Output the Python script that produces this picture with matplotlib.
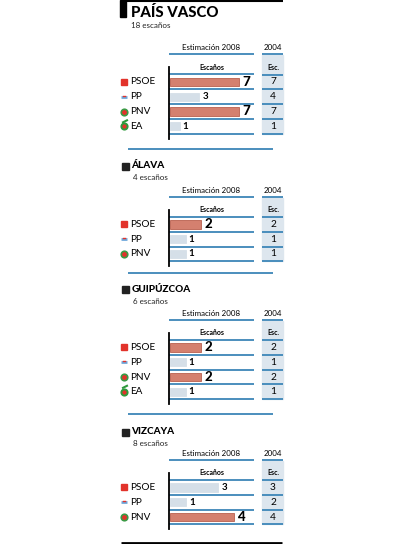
import matplotlib.pyplot as plt
from matplotlib.patches import Rectangle
from matplotlib.transforms import offset_copy
import numpy as np

plt.rcParams['font.family'] = ['Lato', 'DejaVu Sans']

# data
regions = ["PAÍS VASCO", "ÁLAVA", "GUIPÚZCOA", "VIZCAYA"]
region_seats = ["18 escaños", "4 escaños", "6 escaños", "8 escaños"]

pv_parties = ["PSOE", "PP", "PNV", "EA"]
pv_2008 = [7, 3, 7, 1]
pv_2004 = [7, 4, 7, 1]

alava_parties = ["PSOE", "PP", "PNV"]
alava_2008 = [2, 1, 1]
alava_2004 = [2, 1, 1]

guip_parties = ["PSOE", "PP", "PNV", "EA"]
guip_2008 = [2, 1, 2, 1]
guip_2004 = [2, 1, 2, 1]

vizc_parties = ["PSOE", "PP", "PNV"]
vizc_2008 = [3, 1, 4]
vizc_2004 = [3, 2, 4]

sections = [
    (pv_parties, pv_2008, pv_2004),
    (alava_parties, alava_2008, alava_2004),
    (guip_parties, guip_2008, guip_2004),
    (vizc_parties, vizc_2008, vizc_2004),
]

# layout (pixels, measured from the top)
W, H = 400, 544
title_y = [12, 166, 289, 432]
header_y = [74.5, 217, 340, 480]
seat_span = [8.6, 5.5, 5.5, 5.3]
sep_y = [149, 273, 414]
ROW = 14.8
AX_L, AX_R = 169, 254
COL_L, COL_R = 262, 283

RED = '#d4806f'
RED_EDGE = '#b8604f'
GREY = '#d5dfe8'
COL_BG = '#dde6ee'
BLUE = '#3d86b8'

fig = plt.figure(figsize=(W / 100, H / 100), dpi=100)
bg = fig.add_axes([0, 0, 1, 1])
bg.set_xlim(0, W)
bg.set_ylim(H, 0)
bg.axis('off')


def px_axes(x0, y0, x1, y1):
    return fig.add_axes([x0 / W, 1 - y1 / H, (x1 - x0) / W, (y1 - y0) / H])


def draw_icon(name, x, y):
    if name == "PSOE":
        bg.add_patch(Rectangle((x - 3, y - 3), 6, 6, color='#e2332b', zorder=3))
    elif name == "PP":
        bg.plot([x - 3, x + 3], [y, y], color='#6fa8dc', lw=2, solid_capstyle='butt')
        bg.plot([x - 1, x + 1], [y - 1, y - 1], color='#e2332b', lw=1)
    elif name == "PNV":
        bg.scatter([x], [y], s=22, color='#e2332b', edgecolor='#3a9a45', linewidth=1.2, zorder=3)
    else:
        bg.scatter([x], [y], s=20, color='#e2332b', edgecolor='#2e9a3c', linewidth=1.4, zorder=3)
        bg.plot([x - 1, x + 3], [y - 4, y - 6], color='#2e9a3c', lw=1.5)


for i, (parties, est, prev) in enumerate(sections):
    n = len(parties)
    hy = header_y[i]
    ty = title_y[i]
    last = hy + n * ROW

    # section heading
    if i == 0:
        bg.add_patch(Rectangle((120, 0), 6, 17, color='black'))
        bg.hlines(1, 126, 283, color='black', lw=1.5)
        bg.text(131, ty + 1, regions[i], fontsize=10.8, fontweight='black', va='center')
        bg.text(131, ty + 13, region_seats[i], fontsize=5.8, va='center', color='#222222')
    else:
        bg.add_patch(Rectangle((122, ty - 3.5), 6.5, 7, color='#222222'))
        bg.text(131.5, ty, regions[i], fontsize=7.2, fontweight='black', va='center')
        bg.text(133, ty + 12, region_seats[i], fontsize=5.8, va='center', color='#222222')

    # column headers
    bg.text((AX_L + AX_R) / 2, hy - 26.5, "Estimación 2008", fontsize=5.7, ha='center', va='center')
    bg.text((COL_L + COL_R) / 2, hy - 26.5, "2004", fontsize=5.7, ha='center', va='center')
    bg.hlines(hy - 20.5, AX_L, AX_R, color=BLUE, lw=1.3)
    bg.hlines(hy - 20.5, COL_L, COL_R, color=BLUE, lw=1.3)
    bg.add_patch(Rectangle((COL_L, hy - 19.5), COL_R - COL_L, last - hy + 19.5,
                           color=COL_BG, zorder=0))
    bg.text((AX_L + AX_R) / 2, hy - 7.5, "Escaños", fontsize=5, fontweight='bold',
            ha='center', va='center')
    bg.text((COL_L + COL_R) / 2 + 0.5, hy - 7.5, "Esc.", fontsize=5, fontweight='bold',
            ha='center', va='center')
    bg.hlines(hy + ROW * np.arange(n + 1), COL_L, COL_R, color=BLUE, lw=1.3)

    # bars
    ax = px_axes(AX_L, hy - 7, AX_R, last + 5)
    ax.set_xlim(0, seat_span[i])
    ax.set_ylim(n - 0.5 + 5 / ROW, -0.5 - 7 / ROW)
    ax.patch.set_alpha(0)
    for s in ['top', 'right', 'bottom']:
        ax.spines[s].set_visible(False)
    ax.spines['left'].set_linewidth(1.3)
    ax.set_xticks([])
    ax.set_yticks([])

    top = max(est)
    colors = [RED if v == top else GREY for v in est]
    edges = [RED_EDGE if v == top else GREY for v in est]
    ax.barh(range(n), est, left=0.08, height=0.56, color=colors, edgecolor=edges, linewidth=0.6)
    ax.hlines(np.arange(n + 1) - 0.5, 0, seat_span[i], color=BLUE, lw=1.3)

    lab = offset_copy(ax.transData, fig=fig, x=3, y=0, units='dots')
    for j, v in enumerate(est):
        if v == top:
            ax.text(v + 0.08, j, str(v), transform=lab, fontsize=9.5, fontweight='black',
                    va='center', ha='left')
        else:
            ax.text(v + 0.08, j, str(v), transform=lab, fontsize=7, fontweight='bold',
                    va='center', ha='left')

    for j, name in enumerate(parties):
        ry = hy + ROW * (j + 0.5)
        draw_icon(name, 124, ry)
        bg.text(130.5, ry, name, fontsize=7.2, va='center')
        bg.text((COL_L + COL_R) / 2 + 0.5, ry, str(prev[j]), fontsize=7.3, ha='center', va='center')

bg.hlines(sep_y, 128, 273, color=BLUE, lw=1.3)
bg.hlines(542.5, 121, 282, color='black', lw=2)

fig.savefig('out.png', dpi=100)
